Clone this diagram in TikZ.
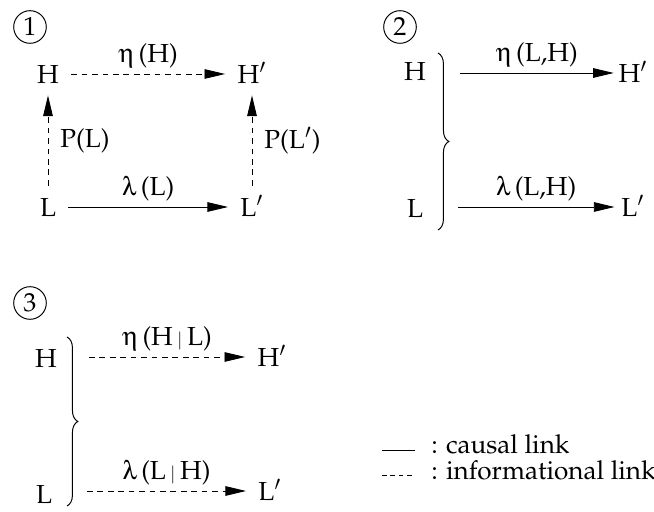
\documentclass[tikz,border=0pt]{standalone}
\usepackage[T1]{fontenc}
\usepackage{mathpazo}
\usepackage[Symbol]{upgreek}
\usetikzlibrary{arrows.meta, decorations.pathreplacing, positioning}

\tikzset{
  state/.style={inner sep=5.5pt, text height=8.3pt, text depth=0pt},
  causal/.style={line width=0.4pt, -{Triangle[length=9.5pt,width=4.4pt]}},
  info/.style={causal, dash pattern=on 2.6pt off 2.2pt},
  num/.style={draw, circle, line width=0.45pt, inner sep=0pt, minimum size=15pt},
  cbrace/.style={decorate, decoration={brace, amplitude=5pt}, line width=0.45pt},
  lbl/.style={inner sep=2.5pt},
}

\begin{document}
\begin{tikzpicture}[x=0.46pt, y=-0.46pt, font=\fontsize{12}{14.4}\selectfont]
\useasboundingbox (0,0) rectangle (654,512);
% 1: square H, H', L, L'
\begin{scope}[shift={(0,0)}]
\node[num] (n1) at (30,27) {1};
\node[state] (H1) at (48,74) {H};
\node[state] (H1p) at (252,74) {H$'$};
\node[state] (L1) at (48,207) {L};
\node[state] (L1p) at (252,207) {L$'$};
\draw[info] (H1) -- node[lbl, above] {$\upeta$\,(H)} (H1p);
\draw[causal] (L1) -- node[lbl, above] {$\uplambda$\,(L)} (L1p);
\draw[info] (L1) -- node[lbl, right=3pt] {P(L)} (H1);
\draw[info] (L1p) -- node[lbl, right=3pt] {P(L$'$)} (H1p);
\end{scope}
% 2: brace + causal links
\begin{scope}[shift={(360,0)}]
\node[num] (n2) at (40,27) {2};
\node[state] (H2) at (55,71) {H};
\node[state] (L2) at (55,208) {L};
\node[state, inner sep=2pt] (H2p) at (273,73) {H$'$};
\node[state, inner sep=3pt] (L2p) at (273,207) {L$'$};
\draw[cbrace] (78,53) -- (78,230);
\coordinate (s2h) at (100,73);
\coordinate (s2l) at (98,207);
\draw[causal] (s2h) -- node[lbl, above] {$\upeta$\,(L,H)} (H2p);
\draw[causal] (s2l) -- node[lbl, above] {$\uplambda$\,(L,H)} (L2p);
\end{scope}
% 3: brace + informational links
\begin{scope}[shift={(0,270)}]
\node[num] (n3) at (30,33) {3};
\node[state] (H3) at (46,88) {H};
\node[state] (L3) at (44,224) {L};
\node[state] (H3p) at (272,87) {H$'$};
\node[state] (L3p) at (270,221) {L$'$};
\draw[cbrace] (67,67) -- (67,236);
\coordinate (s3h) at (89,87);
\coordinate (s3l) at (87,221);
\draw[info] (s3h) -- node[lbl, above] {$\upeta$\,(H\,{\footnotesize$|$}\,L)} (H3p);
\draw[info] (s3l) -- node[lbl, above] {$\uplambda$\,(L\,{\footnotesize$|$}\,H)} (L3p);
\end{scope}
% legend
\coordinate (c1a) at (382,450);
\coordinate (c1b) at (415,450);
\coordinate (c2a) at (382,475);
\coordinate (c2b) at (415,475);
\draw[line width=0.45pt] (c1a) -- (c1b);
\draw[line width=0.4pt, dash pattern=on 2.2pt off 1.6pt] (c2a) -- (c2b);
\node[anchor=base west, inner sep=0pt] (lg1) at (431,454) {: causal link};
\node[anchor=base west, inner sep=0pt] (lg2) at (431,480) {: informational link};
\end{tikzpicture}
\end{document}
